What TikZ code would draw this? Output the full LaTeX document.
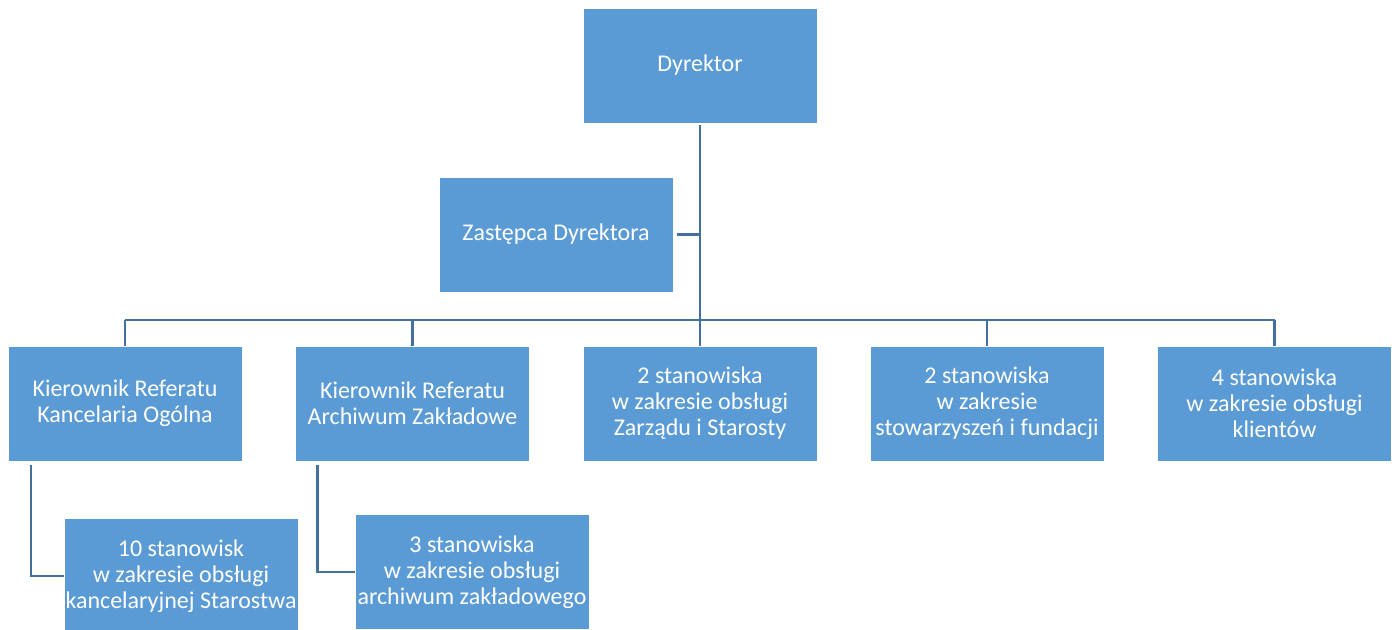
\documentclass[tikz,border=0pt]{standalone}
\usepackage{fontspec}
\setmainfont{Carlito}
\definecolor{boxblue}{HTML}{5B9BD5}
\definecolor{lineblue}{HTML}{41719C}
\begin{document}
\begin{tikzpicture}[x=0.75pt,y=-0.75pt,
  box/.style={rectangle, fill=boxblue, draw=white, line width=0.6pt, text=white,
    minimum width=175.5pt, minimum height=86.25pt, inner sep=0pt, align=center,
    font=\fontsize{18}{19.5}\selectfont},
  conn/.style={draw=lineblue, line width=2.2pt}]
\useasboundingbox (0,0) rectangle (1395,630);
\node[box] (d) at (700,65.5) {Dyrektor};
\node[box] (z) at (556,234.5) {Zastępca Dyrektora};
\node[box] (k1) at (125,403.5) {Kierownik Referatu\\Kancelaria Ogólna};
\node[box] (k2) at (412.5,403.5) {Kierownik Referatu\\Archiwum Zakładowe};
\node[box] (k3) at (700,403.5) {2 stanowiska\\w zakresie obsługi\\Zarządu i Starosty};
\node[box] (k4) at (987,403.5) {2 stanowiska\\w zakresie\\stowarzyszeń i fundacji};
\node[box] (k5) at (1274.5,403.5) {4 stanowiska\\w zakresie obsługi\\klientów};
\node[box] (s1) at (181,576) {10 stanowisk\\w zakresie obsługi\\kancelaryjnej Starostwa};
\node[box] (s2) at (472,572) {3 stanowiska\\w zakresie obsługi\\archiwum zakładowego};
\coordinate (bus) at (0,320);
\draw[conn, shorten <=1.5pt] (d.south) -- (d.south |- bus);
\draw[conn, shorten <=3pt] (z.east) -- (z.east -| d.south);
\draw[conn] (k1.north |- bus) -- (k5.north |- bus);
\foreach \k in {k1,k2,k3,k4,k5}{
  \draw[conn] (\k.north |- bus) -- (\k.north);
}
\draw[conn, shorten <=3pt] ([xshift=-70.5pt]k1.south) |- (s1.west);
\draw[conn, shorten <=3pt] ([xshift=-71.5pt]k2.south) |- (s2.west);
\end{tikzpicture}
\end{document}
